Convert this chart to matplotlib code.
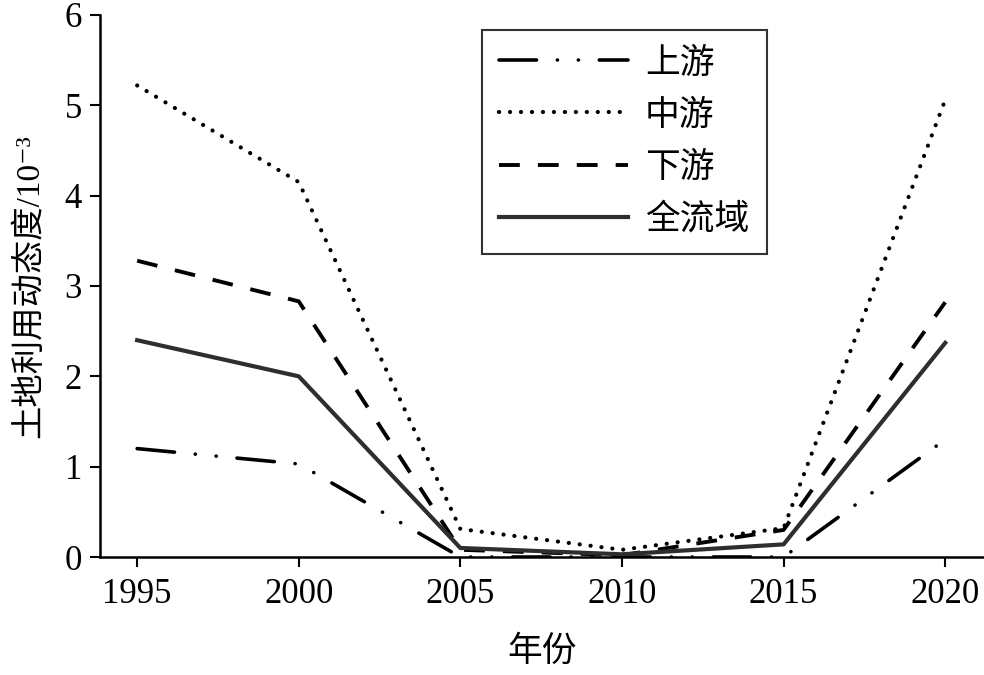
import matplotlib
matplotlib.use('Agg')
import matplotlib.pyplot as plt

plt.rcParams['font.family'] = ['Liberation Serif', 'Noto Sans CJK SC', 'DejaVu Sans']
plt.rcParams['lines.scale_dashes'] = False

years = [1995, 2000, 2005, 2010, 2015, 2020]
upper = [1.20, 1.03, 0.00, 0.00, 0.00, 1.30]
middle = [5.22, 4.15, 0.31, 0.08, 0.32, 5.06]
lower = [3.28, 2.83, 0.08, 0.02, 0.30, 2.82]
whole = [2.40, 2.00, 0.10, 0.03, 0.14, 2.37]
labels = ['上游', '中游', '下游', '全流域']

fig = plt.figure(figsize=(9.84, 6.75), dpi=100)
ax = fig.add_axes([0.1016, 0.1748, 0.8984, 0.803])

ax.plot(years, upper, color='black', lw=2.6, dash_capstyle='round',
        dashes=(27, 15, 0.1, 15, 0.1, 15), label=labels[0])
ax.plot(years, middle, color='black', lw=3.0, dash_capstyle='round',
        dashes=(0.1, 7.8), label=labels[1])
ax.plot(years, lower, color='black', lw=2.8, dash_capstyle='butt',
        dashes=(15, 13), label=labels[2])
ax.plot(years, whole, color='#2e2e2e', lw=3.0, label=labels[3])

ax.set_xlim(1993.85, 2021.2)
ax.set_ylim(0, 6)
ax.set_xticks(years)
ax.set_yticks(range(0, 7))

for s in ['top', 'right']:
    ax.spines[s].set_visible(False)
for s in ['left', 'bottom']:
    ax.spines[s].set_linewidth(1.8)

ax.tick_params(direction='out', length=7, width=1.5, labelsize=25)
ax.tick_params(axis='x', pad=8)
ax.tick_params(axis='y', pad=6)

ax.set_xlabel('年份', fontsize=25, labelpad=18)
ax.set_ylabel('土地利用动态度/10⁻³', fontsize=24, labelpad=14)

leg = ax.legend(loc='upper left', bbox_to_anchor=(0.432, 0.972), fontsize=25,
                handlelength=3.7, handletextpad=0.5, labelspacing=0.55,
                fancybox=False, frameon=True, borderpad=0.5, borderaxespad=0)
leg.get_frame().set_edgecolor('black')
leg.get_frame().set_linewidth(1.5)

fig.savefig('out.png', dpi=100)
